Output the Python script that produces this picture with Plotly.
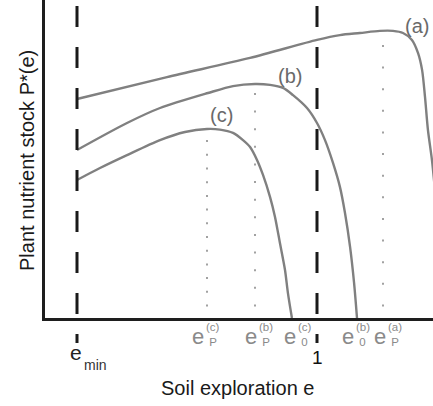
import plotly.graph_objects as go

# ---------------- data ----------------
e_min = 0.1
e_one = 1.0

curve_a_e = [0.1, 0.4375, 0.749, 1.0, 1.086, 1.161, 1.236, 1.285, 1.3225, 1.356, 1.379, 1.394, 1.405, 1.416, 1.431, 1.446]
curve_a_p = [0.73, 0.803, 0.867, 0.927, 0.943, 0.95, 0.957, 0.957, 0.95, 0.927, 0.883, 0.827, 0.737, 0.627, 0.527, 0.393]

curve_b_e = [0.1, 0.2875, 0.41125, 0.59125, 0.685, 0.7675, 0.824, 0.8725, 0.91, 0.9625, 1.0, 1.03, 1.06, 1.086, 1.105, 1.124, 1.139, 1.15]
curve_b_p = [0.56, 0.65, 0.70, 0.75, 0.773, 0.78, 0.777, 0.767, 0.743, 0.70, 0.65, 0.593, 0.517, 0.437, 0.35, 0.237, 0.117, 0.0]

curve_c_e = [0.1, 0.18625, 0.2875, 0.41125, 0.505, 0.5875, 0.636, 0.685, 0.7225, 0.749, 0.775, 0.7975, 0.824, 0.8425, 0.861, 0.88, 0.891, 0.906]
curve_c_p = [0.46, 0.50, 0.543, 0.593, 0.62, 0.63, 0.628, 0.617, 0.593, 0.57, 0.527, 0.477, 0.403, 0.337, 0.25, 0.16, 0.083, 0.0]

curve_names = ["(a)", "(b)", "(c)"]
curve_label_e = [1.375, 0.899, 0.64]
curve_label_p = [0.975, 0.807, 0.677]

# optimum points e_P and zero points e_0
ep_values = [1.2475, 0.7675, 0.5875]          # a, b, c
ep_tops = [0.91, 0.75, 0.593]
e0_values = [1.15, 0.906]                       # b, c

tick_x = [ep_values[2], ep_values[1], e0_values[1], e0_values[0], ep_values[0]]
tick_sup = ["(c)", "(b)", "(c)", "(b)", "(a)"]
tick_sub = ["P", "P", "0", "0", "P"]
tick_dx = [-8, -3, -1, -8, -2]

x_title = "Soil exploration e"
y_title = "Plant nutrient stock P*(e)"

# ---------------- figure ----------------
CURVE = "#808080"
LABEL = "#6a6a6a"
TICKG = "#8a8a8a"
FONT = "Liberation Sans, Arial, sans-serif"

fig = go.Figure()
for xs, ys in [(curve_a_e, curve_a_p), (curve_b_e, curve_b_p), (curve_c_e, curve_c_p)]:
    fig.add_trace(go.Scatter(x=xs, y=ys, mode="lines",
                             line=dict(color=CURVE, width=2.4, shape="spline", smoothing=0.8),
                             hoverinfo="skip", showlegend=False))

shapes = []
# dashed vertical lines at e_min and 1
for xv in [e_min, e_one]:
    shapes.append(dict(type="line", xref="x", yref="paper", x0=xv, x1=xv, y0=0.981, y1=-0.079,
                       line=dict(color="#1a1a1a", width=3, dash="21px,20px")))
# dotted lines at e_P
bottom = 0.045
for xv, top in zip(ep_values, ep_tops):
    length_px = (top - bottom) * 300.0
    sp = length_px / 12.0
    shapes.append(dict(type="line", xref="x", yref="y", x0=xv, x1=xv, y0=top, y1=bottom - 0.008,
                       line=dict(color=TICKG, width=1.6, dash="2px,%.2fpx" % (sp - 2))))

annotations = []
for name, xe, yp in zip(curve_names, curve_label_e, curve_label_p):
    annotations.append(dict(x=xe, y=yp, xref="x", yref="y", text=name, showarrow=False,
                            font=dict(family=FONT, size=20, color=LABEL)))

for xv, sup, sub, dx in zip(tick_x, tick_sup, tick_sub, tick_dx):
    annotations.append(dict(x=xv, y=0, xref="x", yref="paper", text="e", showarrow=False,
                            xanchor="right", yanchor="middle", xshift=dx + 6, yshift=-18,
                            borderpad=0, font=dict(family=FONT, size=22, color=TICKG)))
    annotations.append(dict(x=xv, y=0, xref="x", yref="paper", text=sup + "<br> " + sub,
                            showarrow=False, align="left",
                            xanchor="left", yanchor="middle", xshift=dx + 6, yshift=-16,
                            borderpad=0, font=dict(family=FONT, size=11.5, color=TICKG)))

annotations.append(dict(x=e_one, y=0, xref="x", yref="paper", text="1", showarrow=False,
                        xanchor="center", yanchor="middle", yshift=-39,
                        font=dict(family=FONT, size=19, color="#111111")))
annotations.append(dict(x=e_min, y=0, xref="x", yref="paper", text="e", showarrow=False,
                        xanchor="center", yanchor="middle", xshift=-1, yshift=-34,
                        font=dict(family=FONT, size=21, color="#222222")))
annotations.append(dict(x=e_min, y=0, xref="x", yref="paper", text="min", showarrow=False,
                        xanchor="left", yanchor="middle", xshift=5, yshift=-47,
                        font=dict(family=FONT, size=14, color="#333333")))
annotations.append(dict(x=0.5, y=0, xref="paper", yref="paper", text=x_title, showarrow=False,
                        xanchor="center", yanchor="middle", xshift=-2, yshift=-70,
                        font=dict(family=FONT, size=20, color="#1a1a1a")))
annotations.append(dict(x=0, y=0.5, xref="paper", yref="paper", text=y_title, showarrow=False,
                        textangle=-90, xanchor="center", yanchor="middle", xshift=-18, yshift=-2,
                        font=dict(family=FONT, size=20, color="#1a1a1a")))

fig.update_layout(
    width=433, height=406,
    margin=dict(l=45, r=0, t=0, b=88),
    paper_bgcolor="white", plot_bgcolor="white",
    shapes=shapes, annotations=annotations,
    xaxis=dict(range=[-0.02, 1.435], showgrid=False, zeroline=False, showticklabels=False,
               ticks="", showline=True, linewidth=2.6, linecolor="#1e1e1e"),
    yaxis=dict(range=[0, 1.06], showgrid=False, zeroline=False, showticklabels=False,
               ticks="", showline=True, linewidth=2.6, linecolor="#1e1e1e"),
    showlegend=False,
)

fig.write_html("out.html", config={"displayModeBar": False},
               post_script="document.body.style.margin='0';document.body.style.overflow='hidden';")
